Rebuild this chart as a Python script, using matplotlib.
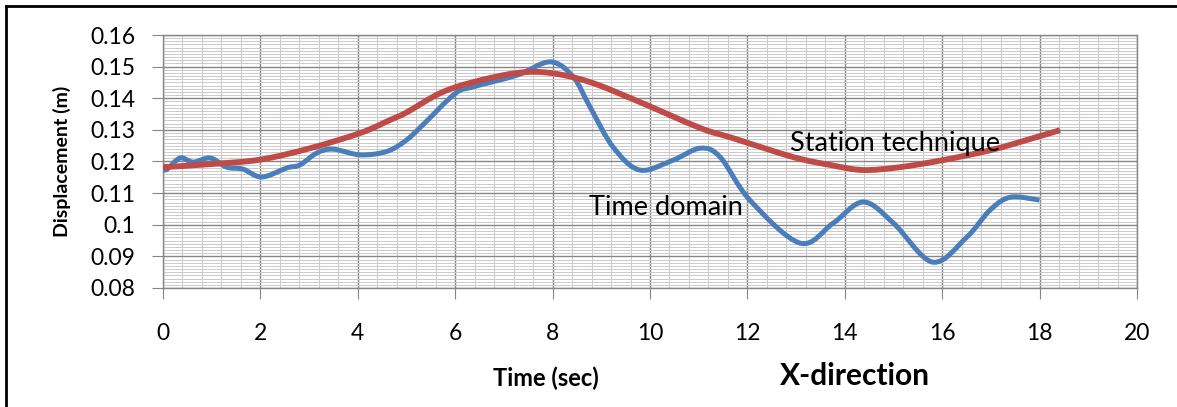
import matplotlib.pyplot as plt
import matplotlib.ticker as ticker
from matplotlib.lines import Line2D
from matplotlib.path import Path
from matplotlib.patches import PathPatch

# time domain series (blue)
t_time = [0.0, 0.08, 0.35, 0.62, 0.97, 1.31, 1.64, 2.03, 2.55, 2.81, 3.16, 3.49,
          4.05, 4.6, 5.0, 5.35, 6.0, 6.37, 7.27, 7.95, 8.42, 8.77, 9.24,
          9.79, 10.47, 11.03, 11.44, 12.05, 13.08, 13.76, 14.38, 15.0,
          15.8, 16.5, 16.98, 17.4, 18.0]
d_time = [0.1178, 0.1175, 0.1211, 0.1198, 0.1211, 0.1182, 0.1176, 0.1151, 0.118,
          0.1189, 0.1227, 0.1239, 0.1221, 0.1232, 0.1268, 0.1318, 0.1415,
          0.1436, 0.1473, 0.1515, 0.1468, 0.1372, 0.1246, 0.1173, 0.1204, 0.1242,
          0.1214, 0.1078, 0.0942, 0.1005, 0.1072, 0.1005, 0.0882, 0.096,
          0.1046, 0.1087, 0.1078]

# station technique series (red)
t_stat = [0.0, 1.0, 2.0, 3.02, 4.05, 4.66, 5.0, 5.69, 6.37, 7.27, 7.95, 8.77,
          9.79, 11.03, 11.7, 12.94, 13.7, 14.37, 15.13, 16.0, 17.0, 17.87, 18.42]
d_stat = [0.1182, 0.1192, 0.1206, 0.1242, 0.129, 0.1331, 0.1355, 0.1416, 0.1451,
          0.148, 0.148, 0.1451, 0.1388, 0.1306, 0.1274, 0.1214, 0.1189, 0.1173,
          0.1182, 0.1204, 0.1236, 0.1274, 0.1299]


def smooth_path(xs, ys):
    # excel-like smoothed line: catmull-rom segments as cubic beziers
    n = len(xs)
    verts = [(xs[0], ys[0])]
    codes = [Path.MOVETO]
    for i in range(n - 1):
        i0 = max(i - 1, 0)
        i3 = min(i + 2, n - 1)
        c1 = (xs[i] + (xs[i + 1] - xs[i0]) / 6, ys[i] + (ys[i + 1] - ys[i0]) / 6)
        c2 = (xs[i + 1] - (xs[i3] - xs[i]) / 6, ys[i + 1] - (ys[i3] - ys[i]) / 6)
        verts += [c1, c2, (xs[i + 1], ys[i + 1])]
        codes += [Path.CURVE4] * 3
    return Path(verts, codes)


plt.rcParams['font.family'] = ['Lato', 'DejaVu Sans']

fig = plt.figure(figsize=(11.77, 4.07), dpi=100)
ax = fig.add_axes([0.1385, 0.2924, 0.8275, 0.6216])

ax.add_patch(PathPatch(smooth_path(t_time, d_time), fill=False, edgecolor='#4a7ebb',
                       lw=3.6, capstyle='butt', zorder=3))
ax.add_patch(PathPatch(smooth_path(t_stat, d_stat), fill=False, edgecolor='#be4b48',
                       lw=4.2, capstyle='butt', zorder=3))

ax.set_xlim(0, 20)
ax.set_ylim(0.08, 0.16)
ax.xaxis.set_major_locator(ticker.MultipleLocator(2))
ax.xaxis.set_minor_locator(ticker.MultipleLocator(0.4))
ax.yaxis.set_major_locator(ticker.MultipleLocator(0.01))
ax.yaxis.set_minor_locator(ticker.MultipleLocator(0.001))
ax.yaxis.set_major_formatter(ticker.FuncFormatter(lambda v, p: '0.1' if abs(v - 0.1) < 1e-9 else '%.2f' % v))

ax.grid(which='minor', color='#cccccc', lw=0.75, zorder=0)
ax.grid(which='major', color='#868686', lw=1.0, zorder=1)
ax.set_axisbelow(True)
for s in ax.spines.values():
    s.set_color('#868686')
    s.set_linewidth(1.0)

ax.tick_params(which='major', direction='out', length=8, color='#868686',
               labelsize=16.5)
ax.tick_params(axis='y', pad=12)
ax.tick_params(axis='x', pad=17)
ax.tick_params(which='minor', length=0)

ax.set_ylabel('Displacement (m)', fontsize=14, fontweight='bold', labelpad=14)

ax.text(10.33, 0.1053, 'Time domain', fontsize=19.5, ha='center', va='center', zorder=4)
ax.text(15.03, 0.1258, 'Station technique', fontsize=19.5, ha='center', va='center', zorder=4)

fig.text(546 / 1177, 1 - 378 / 407, 'Time (sec)', fontsize=17, fontweight='bold',
         ha='center', va='center')
fig.text(855 / 1177, 1 - 376 / 407, 'X-direction', fontsize=21.5, fontweight='bold',
         ha='center', va='center')

# chart area border (left and top)
fig.add_artist(Line2D([6 / 1177, 6 / 1177], [0, 1 - 6 / 407], color='black', lw=2,
                      transform=fig.transFigure))
fig.add_artist(Line2D([6 / 1177, 1], [1 - 6 / 407, 1 - 6 / 407], color='black', lw=2,
                      transform=fig.transFigure))

fig.savefig('out.png', dpi=100)
